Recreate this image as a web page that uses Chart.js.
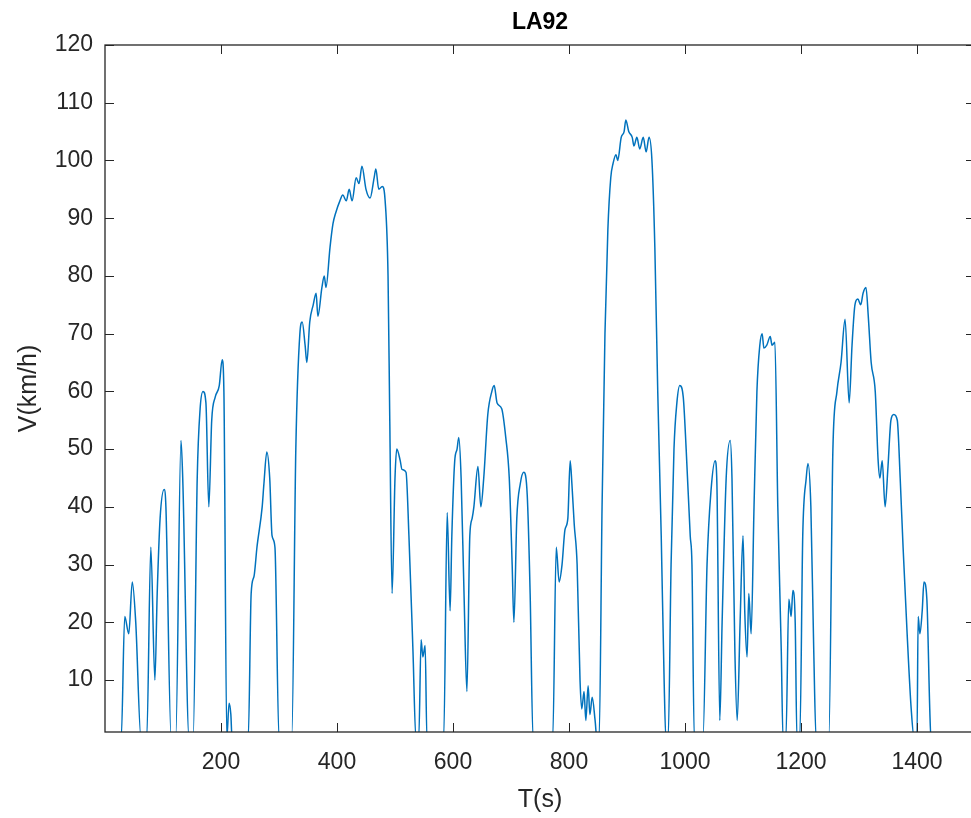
<!DOCTYPE html>
<html>
<head>
<meta charset="utf-8">
<script src="https://cdn.jsdelivr.net/npm/chart.js@4/dist/chart.umd.min.js"></script>
<style>
  html, body { margin: 0; padding: 0; background: #fff; overflow: hidden; }
  #wrap { position: relative; width: 990px; height: 818px; }
</style>
</head>
<body>
<div id="wrap"><canvas id="la92"></canvas></div>
<script>
// LA92 drive cycle (time in s, speed in km/h)
const times = [
  0, 28, 34, 41, 47, 53, 62,
  72, 79, 86, 90, 95, 102, 105, 114,
  122, 131, 134, 145,
  152, 159, 164, 169, 174, 179, 184, 190, 197, 202, 205, 210, 214, 217, 219,
  247, 252, 257, 262, 271, 274, 279, 284, 288, 293, 300,
  322, 329, 336, 340, 345, 348, 353, 359, 364, 367, 374, 378, 381, 388, 393, 398,
  405, 410, 416, 421, 426, 433, 438, 443, 450, 457, 464, 467, 472, 478, 483, 488,
  491, 495, 500, 503, 509, 512, 519, 524, 531, 536,
  541, 545, 548, 552, 555,
  584, 590, 595, 598, 603, 607, 610, 614, 619, 624, 629, 633, 636, 643, 648, 653,
  660, 667, 671, 676, 684, 691, 697, 702, 705, 710, 716, 722, 728, 733, 738,
  772, 778, 783, 788, 793, 798, 802, 805, 809, 814, 819, 822, 826, 829, 833, 836,
  840, 845, 848,
  852, 857, 862, 867, 872, 876, 881, 884, 890, 895, 898, 903, 909, 912, 917, 922,
  928, 933, 938, 943, 948, 953, 959, 964, 967,
  971, 976, 981, 986, 991, 997, 1002, 1009, 1012, 1016,
  1031, 1038, 1045, 1052, 1055, 1060, 1064, 1071, 1078, 1081, 1086, 1090, 1095,
  1100, 1103, 1107, 1110, 1114, 1119, 1124, 1129, 1133, 1136, 1141, 1147, 1150,
  1155, 1160, 1166, 1169,
  1174, 1179, 1183, 1186, 1190, 1193,
  1198, 1203, 1209, 1212, 1217, 1222, 1226,
  1248, 1255, 1262, 1269, 1276, 1283, 1288, 1293, 1298, 1303, 1307, 1312, 1316,
  1321, 1328, 1333, 1336, 1340, 1345, 1350, 1355, 1360, 1366, 1371, 1376, 1383,
  1390, 1395,
  1400, 1402, 1405, 1409, 1412, 1417, 1422, 1424, 1435
];
const speeds = [
  0, 0, 21, 18, 27, 20, 0,
  0, 33, 10, 25, 38, 43, 40, 0,
  0, 51.5, 45, 0,
  0, 45, 57, 60, 58, 40, 55, 59, 61, 65.5, 60, 0, 6, 4, 0,
  0, 25, 28, 33, 40, 44, 49.5, 45, 35, 33, 0,
  0, 50, 70, 72, 68, 65, 72, 75, 77, 73, 78, 80, 78, 85, 89, 91,
  93, 94, 93, 95, 93, 97, 96, 99, 95, 93.5, 97, 98.5, 95, 95.5, 93, 80,
  55, 25, 45, 50, 48, 46.5, 46, 35, 15, 0,
  0, 17, 14, 16, 0,
  0, 39, 22, 35, 48, 50, 52, 45, 25, 8, 35, 38, 40, 47, 40, 45,
  56, 60, 61, 58, 57, 52, 45, 30, 20, 38, 44, 46, 42, 25, 0,
  0, 33, 27, 30, 36, 38, 48, 44, 37, 30, 10, 5, 8, 3, 9, 4,
  7, 3, 0,
  0, 40, 70, 88, 97, 99.5, 101, 100, 104, 105, 107, 105, 104, 102.5, 104, 102,
  104, 101.5, 104, 100, 85, 60, 35, 10, 0,
  0, 30, 50, 58, 61, 59, 50, 35, 30, 0,
  0, 30, 43, 48, 44, 3, 20, 45, 51.5, 45, 15, 3, 20,
  35, 22, 14, 25, 18, 40, 60, 68, 70, 67.5, 68, 69.5, 68,
  68.5, 40, 15, 0,
  0, 24, 21, 25.5, 20, 0,
  0, 35, 45, 47.5, 40, 15, 0,
  0, 50, 60, 65, 72.5, 58, 68, 75, 76, 75, 77, 78, 73,
  65, 60, 48, 45, 48, 40, 47, 55, 56, 55, 45, 33, 18,
  5, 0,
  0, 21, 18, 22, 27, 24, 5, 0, 0
];
const xTicks = [200, 400, 600, 800, 1000, 1200, 1400];
const yTicks = [10, 20, 30, 40, 50, 60, 70, 80, 90, 100, 110, 120];

const INK = '#262626';
const FONT = "'Liberation Sans', Arial, Helvetica, sans-serif";

// box round the axes, with the short inward ticks on all four sides
const boxAxes = {
  id: 'boxAxes',
  afterDraw(chart) {
    const { ctx, chartArea: a, scales: { x, y } } = chart;
    const len = 9;
    ctx.save();
    ctx.strokeStyle = INK;
    ctx.lineWidth = 1;
    ctx.beginPath();
    xTicks.forEach(v => {
      const px = Math.round(x.getPixelForValue(v)) + 0.5;
      ctx.moveTo(px, a.bottom); ctx.lineTo(px, a.bottom - len);
      ctx.moveTo(px, a.top);    ctx.lineTo(px, a.top + len);
    });
    yTicks.forEach(v => {
      const py = Math.round(y.getPixelForValue(v)) + 0.5;
      ctx.moveTo(a.left, py);  ctx.lineTo(a.left + len, py);
      ctx.moveTo(a.right, py); ctx.lineTo(a.right - len, py);
    });
    ctx.stroke();
    ctx.lineWidth = 1.3;
    ctx.strokeRect(a.left, a.top, a.right - a.left, a.bottom - a.top);
    ctx.restore();
  }
};

new Chart(document.getElementById('la92'), {
  type: 'line',
  data: {
    datasets: [{
      data: times.map((t, i) => ({ x: t, y: speeds[i] })),
      borderColor: '#0072BD',
      borderWidth: 1.5,
      pointRadius: 0,
      cubicInterpolationMode: 'monotone',
      fill: false
    }]
  },
  options: {
    responsive: true, maintainAspectRatio: false, animation: false,
    layout: { padding: { left: 0, right: 15, top: 0, bottom: 0 } },
    plugins: {
      legend: { display: false },
      tooltip: { enabled: false },
      title: {
        display: true, text: 'LA92', fullSize: false, color: '#000',
        font: { family: FONT, size: 23, weight: 'bold', lineHeight: 1.2 },
        padding: { top: 9, bottom: 8.4 }
      }
    },
    scales: {
      x: {
        type: 'linear', min: 0, max: 1500,
        afterBuildTicks: s => { s.ticks = xTicks.map(v => ({ value: v })); },
        afterFit: s => { s.height = 86; },
        grid: { display: false, drawTicks: false },
        border: { display: false },
        ticks: { color: INK, padding: 17, maxRotation: 0, callback: v => String(v),
                 font: { family: FONT, size: 23 } },
        title: { display: true, text: 'T(s)', color: INK, padding: { top: 0, bottom: 3 },
                 font: { family: FONT, size: 25, lineHeight: 1.2 } }
      },
      y: {
        min: 1, max: 120,
        afterBuildTicks: s => { s.ticks = yTicks.map(v => ({ value: v })); },
        afterFit: s => { s.width = 105; },
        grid: { display: false, drawTicks: false },
        border: { display: false },
        ticks: { color: INK, padding: 12, callback: v => String(v),
                 font: { family: FONT, size: 23 } },
        title: { display: true, text: 'V(km/h)', color: INK, padding: { top: 14, bottom: 0 },
                 font: { family: FONT, size: 25, lineHeight: 1.2 } }
      }
    }
  },
  plugins: [boxAxes]
});
</script>
</body>
</html>
